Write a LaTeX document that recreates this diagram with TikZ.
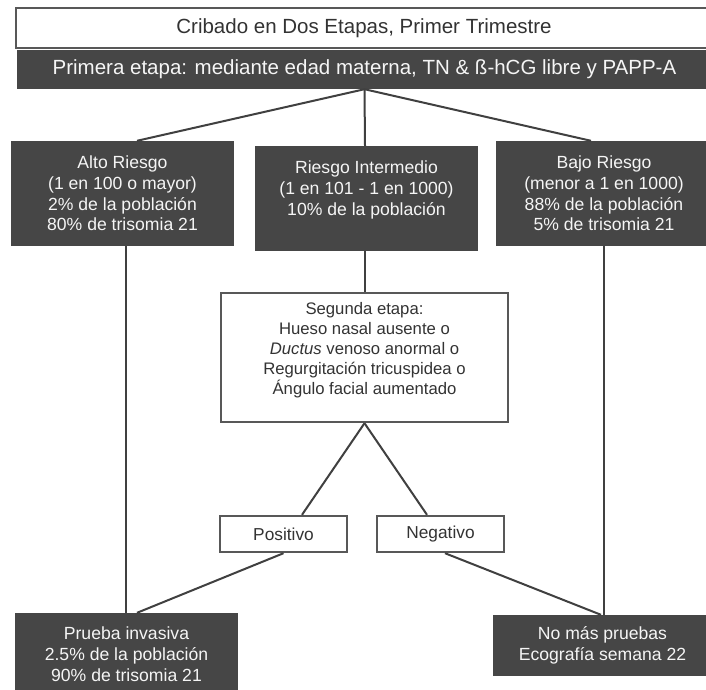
\documentclass[tikz,border=0pt]{standalone}
\usepackage{fontspec}
\setmainfont{Liberation Sans}
\definecolor{darkbox}{RGB}{70,70,70}
\definecolor{lineg}{RGB}{64,64,64}
\definecolor{bordg}{RGB}{88,88,88}
\definecolor{txtg}{RGB}{51,51,51}
\definecolor{txtw}{RGB}{245,245,245}
\tikzset{
  darknode/.style={fill=darkbox, text=txtw, inner sep=0pt, align=center,
    font=\fontsize{17.6}{20.8}\selectfont},
  whitenode/.style={draw=bordg, line width=2.4pt, fill=white, text=txtg, inner sep=0pt, align=center,
    font=\fontsize{17.3}{20.4}\selectfont},
  conn/.style={draw=lineg, line width=2pt},
}
\begin{document}
\begin{tikzpicture}[x=1pt,y=-1pt]
\clip (0,0) rectangle (706,689);
\fill[white] (0,0) rectangle (706,689);
% connectors first (behind boxes)
\node[whitenode, minimum width=696, minimum height=40, font=\fontsize{20.5}{24}\selectfont] (top) at (364,28) {Cribado en Dos Etapas, Primer Trimestre};
\node[darknode, minimum width=695, minimum height=39, font=\fontsize{20.5}{24}\selectfont] (dark) at (364.5,69.5) {Primera etapa: mediante edad materna, TN \& ß-hCG libre y PAPP-A};
\node[darknode, minimum width=223, minimum height=105] (alto) at (122.5,193.5) {Alto Riesgo\\(1 en 100 o mayor)\\2\% de la población\\80\% de trisomia 21};
\node[darknode, minimum width=223, minimum height=105] (inter) at (366.5,198.5) {Riesgo Intermedio\\(1 en 101 - 1 en 1000)\\10\% de la población\\\mbox{}};
\node[darknode, minimum width=216, minimum height=105] (bajo) at (604,193.5) {Bajo Riesgo\\(menor a 1 en 1000)\\88\% de la población\\5\% de trisomia 21};
\node[whitenode, minimum width=287, minimum height=129] (seg) at (364.5,357.5) {};
\node[text=txtg, inner sep=0pt, align=center, font=\fontsize{16.7}{20}\selectfont] (segtxt) at (364.5,350) {Segunda etapa:\\Hueso nasal ausente o\\\textit{Ductus} venoso anormal o\\Regurgitación tricuspidea o\\Ángulo facial aumentado};
\node[whitenode, minimum width=127, minimum height=36] (pos) at (283.5,534) {Positivo};
\node[whitenode, minimum width=127, minimum height=36] (neg) at (440.5,534) {Negativo};
\node[darknode, minimum width=223, minimum height=82, font=\fontsize{17.6}{20.7}\selectfont] (prueba) at (126.5,654) {Prueba invasiva\\2.5\% de la población\\90\% de trisomia 21};
\node[darknode, minimum width=219, minimum height=61] (nomas) at (602.5,645.5) {No más pruebas\\Ecografía semana 22};
% connectors
\draw[conn] (dark.south) -- ([xshift=14.5pt]alto.north);
\draw[conn] (dark.south) -- ([xshift=-1.5pt]inter.north);
\draw[conn] (dark.south) -- ([xshift=-13pt]bajo.north);
\draw[conn] ([xshift=3.5pt]alto.south) -- ([xshift=3.5pt]alto.south |- prueba.north);
\draw[conn] ([xshift=-1.5pt]inter.south) -- ([xshift=-1.5pt]inter.south |- seg.north);
\draw[conn] (bajo.south) -- (bajo.south |- nomas.north);
\draw[conn] (seg.south) -- ([xshift=18.5pt]pos.north);
\draw[conn] (seg.south) -- ([xshift=-13.5pt]neg.north);
\draw[conn] (pos.south) -- ([xshift=10.5pt]prueba.north);
\draw[conn] ([xshift=4.5pt]neg.south) -- ([xshift=-1.5pt]nomas.north);
\end{tikzpicture}
\end{document}
